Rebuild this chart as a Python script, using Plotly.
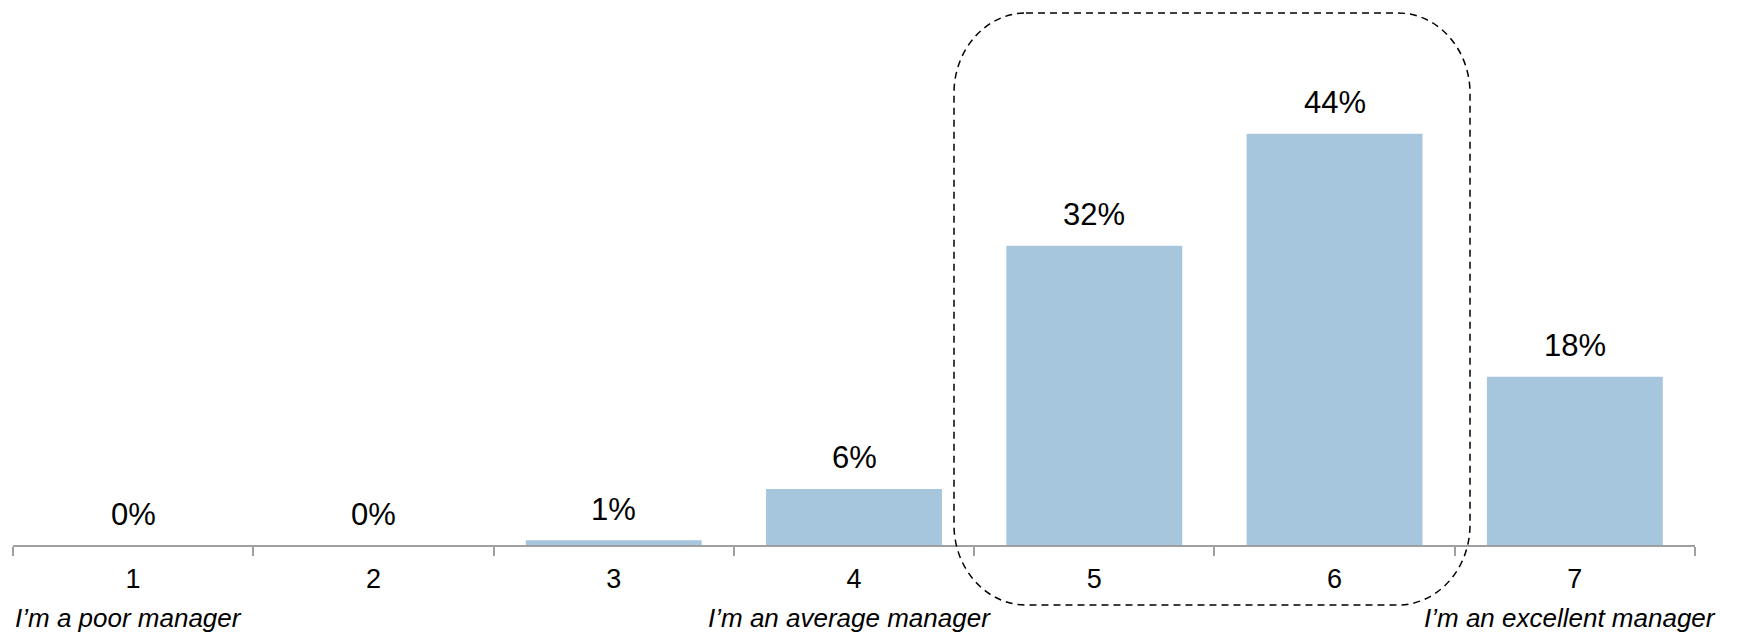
import plotly.graph_objects as go

categories = ["1", "2", "3", "4", "5", "6", "7"]
values = [0, 0, 0.5, 6, 32, 44, 18]
value_labels = ["0%", "0%", "1%", "6%", "32%", "44%", "18%"]
scale_labels = {"1": "I’m a poor manager", "4": "I’m an average manager", "7": "I’m an excellent manager"}

W, H = 1744, 632
ML, MR, MT, MB = 13, 49, 0, 87
FONT = "Liberation Sans, Arial, sans-serif"
BAR = "#A6C6DD"

fig = go.Figure()
fig.add_trace(go.Bar(
    x=categories, y=values,
    marker=dict(color=BAR, line=dict(width=0)),
    width=0.732, hoverinfo="skip",
))

for i, (v, t) in enumerate(zip(values, value_labels)):
    fig.add_annotation(x=i, y=v, xref="x", yref="y", text=t, showarrow=False,
                       yanchor="middle", yshift=31,
                       font=dict(family=FONT, size=31, color="#000000"))

pw = W - ML - MR
ph = H - MT - MB
for c, t in scale_labels.items():
    fig.add_annotation(x=categories.index(c), y=-MB / ph, xref="x", yref="paper",
                       text="<i>" + t + "</i>",
                       showarrow=False, yanchor="bottom", xshift=-5, yshift=-3,
                       font=dict(family=FONT, size=26, color="#000000"))

# dashed rounded box (paper coords)
def px2x(p):
    return (p - ML) / pw
def py2y(p):
    return 1 - (p - MT) / ph
x0, x1 = px2x(954), px2x(1470)
y0, y1 = py2y(605), py2y(13)
rx, ry = 72 / pw, 80 / ph
k = 0.45
path = (f"M {x0+rx},{y1} L {x1-rx},{y1} "
        f"C {x1-rx*k},{y1} {x1},{y1-ry*k} {x1},{y1-ry} "
        f"L {x1},{y0+ry} "
        f"C {x1},{y0+ry*k} {x1-rx*k},{y0} {x1-rx},{y0} "
        f"L {x0+rx},{y0} "
        f"C {x0+rx*k},{y0} {x0},{y0+ry*k} {x0},{y0+ry} "
        f"L {x0},{y1-ry} "
        f"C {x0},{y1-ry*k} {x0+rx*k},{y1} {x0+rx},{y1} Z")
fig.add_shape(type="path", path=path, xref="paper", yref="paper",
              line=dict(color="#000000", width=1.5, dash="7px,5px"))

fig.update_layout(
    width=W, height=H,
    margin=dict(l=ML, r=MR, t=MT, b=MB),
    paper_bgcolor="white", plot_bgcolor="white",
    showlegend=False,
    xaxis=dict(
        type="category",
        range=[-0.5, len(categories) - 0.5],
        showline=True, linecolor="#A0A0A0", linewidth=2,
        ticks="outside", ticklen=9, tickcolor="#A0A0A0", tickwidth=2,
        tickson="boundaries", showgrid=False, zeroline=False,
        tickfont=dict(family=FONT, size=27, color="#000000"),
        ticklabelstandoff=9,
    ),
    yaxis=dict(range=[0, 58.3], visible=False, showgrid=False, zeroline=False),
)

fig.write_html("out.html")
